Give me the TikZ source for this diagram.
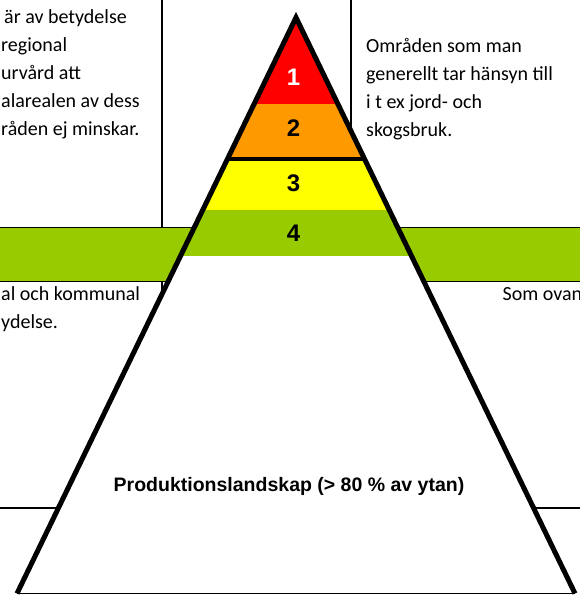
\documentclass[tikz,border=0pt]{standalone}
\usepackage{fontspec}
\setmainfont{Carlito}
\newfontfamily\headfont{Liberation Sans}
\usepackage{tikz}
\usetikzlibrary{positioning}
\definecolor{lvlred}{RGB}{255,0,0}
\definecolor{lvlorange}{RGB}{255,153,0}
\definecolor{lvlyellow}{RGB}{255,255,0}
\definecolor{lvlgreen}{RGB}{153,204,0}
\tikzset{
  gridline/.style={line width=1.6pt, black},
  celltext/.style={anchor=base west, align=left, inner sep=0pt,
    font=\fontsize{20}{27.8}\selectfont},
  levelnum/.style={anchor=base, inner sep=0pt,
    font=\headfont\bfseries\fontsize{24}{24}\selectfont}
}

\begin{document}
\begin{tikzpicture}[x=1pt, y=-1pt]
  \useasboundingbox (0,0) rectangle (580,595);

  % Table lines behind the pyramid
  \draw[gridline] (162,-2) -- (162,560);
  \draw[gridline] (351,-2) -- (351,560);
  \draw[gridline] (-2,508) -- (582,508);

  % Green band
  \fill[lvlgreen] (-2,227.5) rectangle (582,281.5);
  \draw[gridline] (-2,227.5) -- (582,227.5);
  \draw[gridline] (-2,281.5) -- (582,281.5);

  % Pyramid
  \coordinate (top) at (296,17.5);
  \coordinate (bl) at (17,593.5);
  \coordinate (br) at (575,593.5);
  \fill[white] (bl) -- (top) -- (br) -- cycle;
  \begin{scope}
    \clip (bl) -- (top) -- (br) -- cycle;
    \fill[lvlred] (0,0) rectangle (580,104.3);
    \fill[lvlorange] (0,104.3) rectangle (580,158.8);
    \fill[lvlyellow] (0,158.8) rectangle (580,210);
    \fill[lvlgreen] (0,210) rectangle (580,256);
    \draw[line width=4pt] (0,158.8) -- (580,158.8);
  \end{scope}
  \draw[line width=1.3pt] (bl) -- (br);
  \draw[line width=5pt, line join=miter] (bl) -- (top) -- (br);

  % Levels
  \node[levelnum, white] (n1) at (293.5,85) {1};
  \node[levelnum] (n2) at (293.5,136.7) {2};
  \node[levelnum] (n3) at (293.5,191.7) {3};
  \node[levelnum] (n4) at (293.5,241.7) {4};

  % Cell texts (anchored at the last baseline)
  \node[celltext] (lefttop) at (1,135) {\hspace*{3pt}är av betydelse\\regional\\urvård att\\alarealen av dess\\råden ej minskar.};
  \node[celltext] (righttop) at (366,136) {Områden som man\\generellt tar hänsyn till\\i t ex jord- och\\skogsbruk.};
  \node[celltext] (leftmid) at (1,328.5) {al och kommunal\\ydelse.};
  \node[celltext] (rightmid) at (502.5,300.7) {Som ovan};

  \node[anchor=base, inner sep=0pt, font=\headfont\bfseries\fontsize{19.5}{19.5}\selectfont]
    (prod) at (289,491.7) {Produktionslandskap (> 80 \% av ytan)};
\end{tikzpicture}
\end{document}
